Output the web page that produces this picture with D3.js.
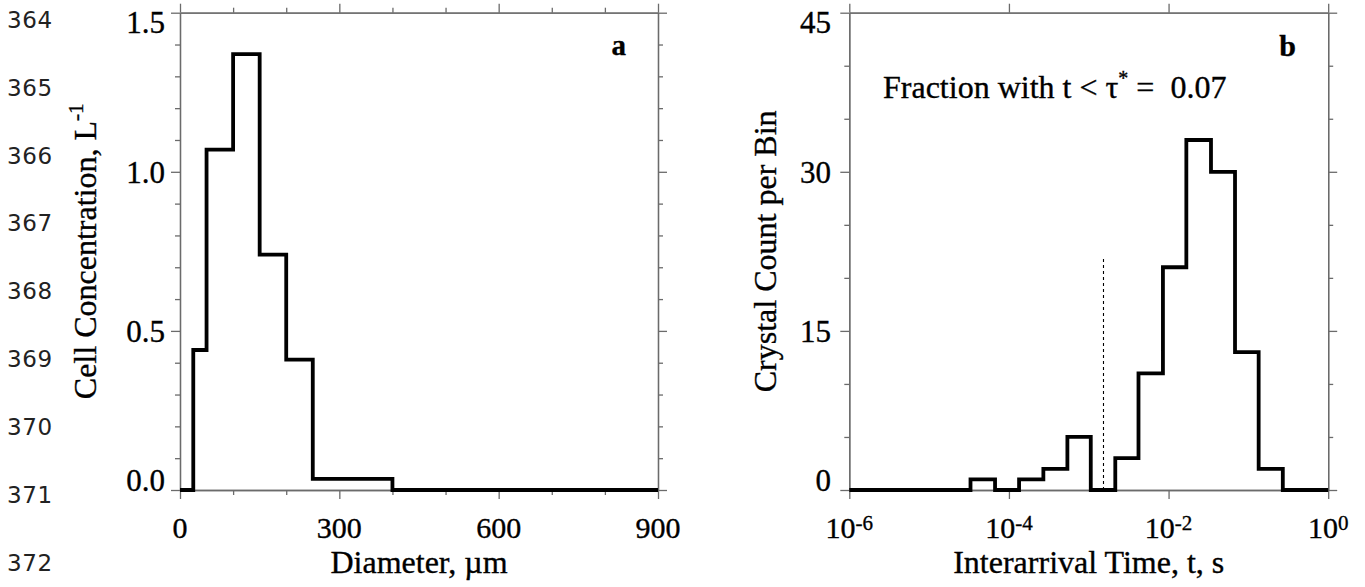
<!DOCTYPE html>
<html>
<head>
  <meta charset="utf-8">
  <script src="https://d3js.org/d3.v7.min.js"></script>
  <style>
    body { margin: 0; background: #fff; }
    svg { display: block; }
    .serif { font-family: "Liberation Serif", "Times New Roman", serif; fill: #000; stroke: #000; stroke-width: 0.35px; }
    .lineno { font-family: "DejaVu Sans", sans-serif; font-size: 23px; fill: #222; letter-spacing: 0.6px; }
  </style>
</head>
<body>
  <svg width="1365" height="587"></svg>

  <script>
    // manuscript line numbers down the left margin
    var lineNumbers = [364, 365, 366, 367, 368, 369, 370, 371, 372];

    // panel a: cell concentration by diameter bin (um, per L)
    var diamEdges = [0, 25, 50, 100, 150, 200, 250, 400, 900];
    var cellConc = [0, 0.44, 1.07, 1.37, 0.74, 0.41, 0.035, 0];
    var diamTicks = [0, 300, 600, 900];
    var diamMinor = [100, 200, 400, 500, 700, 800];
    var concTicks = [0, 0.5, 1.0, 1.5];
    var concMinor = [0.1, 0.2, 0.3, 0.4, 0.6, 0.7, 0.8, 0.9, 1.1, 1.2, 1.3, 1.4];

    // panel b: crystal count by interarrival time bin (s)
    var timeEdges = [1e-6, 3.3e-5, 6.7e-5, 1.34e-4, 2.7e-4, 5.4e-4, 1.06e-3, 2.15e-3,
                     4.2e-3, 8.5e-3, 1.67e-2, 3.4e-2, 6.8e-2, 0.1345, 0.27, 1];
    var crystalCount = [0, 1, 0, 1, 2, 5, 0, 3, 11, 21, 33, 30, 13, 2, 0];
    var timeTickExp = [-6, -4, -2, 0];
    var countTicks = [0, 15, 30, 45];
    var countMinor = [5, 10, 20, 25, 35, 40];
    var tauStar = 1.53e-3;
    var tauLineTop = 22;
    var fraction = 0.07;

    var svg = d3.select("svg");
    var plotTop = 12.7, plotBottom = 490;
    var axisColor = "#6b6b6b";

    // line numbers
    var lnY = d3.scaleLinear().domain([0, lineNumbers.length - 1]).range([28, 570.5]);
    svg.selectAll(".lineno")
      .data(lineNumbers)
      .enter()
      .append("text")
      .attr("class", "lineno")
      .attr("x", 7)
      .attr("y", (d, i) => lnY(i))
      .text(d => d);

    // step outline from bin edges and values
    function stepPath(edges, vals, x, y) {
      var pts = vals.map((v, i) => [edges[i], v]);
      pts.push([edges[edges.length - 1], vals[vals.length - 1]]);
      return d3.line()
        .x(d => x(d[0]))
        .y(d => y(d[1]))
        .curve(d3.curveStepAfter)(pts);
    }

    // frame with ticks on all four sides, ticks pointing out
    function frame(g, x, y, xMajor, xMinor, yMajor, yMinor) {
      var x0 = x.range()[0], x1 = x.range()[1];
      var sides = [
        [d3.axisBottom, x, xMajor, xMinor, "translate(0," + plotBottom + ")"],
        [d3.axisTop, x, xMajor, xMinor, "translate(0," + plotTop + ")"],
        [d3.axisLeft, y, yMajor, yMinor, "translate(" + x0 + ",0)"],
        [d3.axisRight, y, yMajor, yMinor, "translate(" + x1 + ",0)"]
      ];
      sides.forEach(s => {
        [[s[2], 9], [s[3], 5]].forEach(t => {
          var a = g.append("g")
            .attr("transform", s[4])
            .call(s[0](s[1]).tickValues(t[0]).tickSize(t[1]).tickSizeOuter(0).tickFormat(""));
          a.selectAll("line").attr("stroke", axisColor).attr("stroke-width", 1.3);
          a.select(".domain").attr("stroke", axisColor).attr("stroke-width", 1.3);
        });
      });
    }

    function yLabels(g, y, ticks, xPos, fmt) {
      var lo = d3.min(ticks), hi = d3.max(ticks);
      g.selectAll(".ytl")
        .data(ticks)
        .enter()
        .append("text")
        .attr("class", "serif")
        .attr("font-size", 31)
        .attr("text-anchor", "end")
        .attr("x", xPos)
        .attr("y", d => y(d) + (d === hi ? 20.5 : d === lo ? 1 : 11))
        .text(fmt);
    }

    // ---------- panel a ----------
    var xa = d3.scaleLinear().domain([0, 900]).range([180, 658]);
    var ya = d3.scaleLinear().domain([0, 1.5]).range([plotBottom, plotTop]);
    var ga = svg.append("g");
    frame(ga, xa, ya, diamTicks, diamMinor, concTicks, concMinor);

    ga.append("path")
      .attr("d", stepPath(diamEdges, cellConc, xa, ya))
      .attr("fill", "none")
      .attr("stroke", "#000")
      .attr("stroke-width", 3.8)
      .attr("stroke-linejoin", "miter");

    ga.selectAll(".xtl")
      .data(diamTicks)
      .enter()
      .append("text")
      .attr("class", "serif")
      .attr("font-size", 30)
      .attr("text-anchor", "middle")
      .attr("x", d => xa(d))
      .attr("y", 538)
      .text(d => d);

    yLabels(ga, ya, concTicks, 165, d => d3.format(".1f")(d));

    ga.append("text")
      .attr("class", "serif")
      .attr("font-size", 32)
      .attr("text-anchor", "middle")
      .attr("x", (xa.range()[0] + xa.range()[1]) / 2)
      .attr("y", 573)
      .text("Diameter, \u00b5m");

    var yla = ga.append("text")
      .attr("class", "serif")
      .attr("font-size", 32)
      .attr("text-anchor", "middle")
      .attr("transform", "translate(96," + (plotTop + plotBottom) / 2 + ") rotate(-90)");
    yla.append("tspan").text("Cell Concentration, L");
    yla.append("tspan").attr("font-size", 21).attr("dy", -13).text("-1");

    ga.append("text")
      .attr("class", "serif")
      .attr("font-size", 29)
      .attr("font-weight", "bold")
      .attr("text-anchor", "end")
      .attr("x", 626)
      .attr("y", 55)
      .text("a");

    // ---------- panel b ----------
    var xb = d3.scaleLog().domain([1e-6, 1]).range([849.3, 1328.2]);
    var yb = d3.scaleLinear().domain([0, 45]).range([plotBottom, plotTop]);
    var gb = svg.append("g");
    var timeTicks = timeTickExp.map(e => Math.pow(10, e));
    frame(gb, xb, yb, timeTicks, [], countTicks, countMinor);

    gb.append("line")
      .attr("x1", xb(tauStar))
      .attr("x2", xb(tauStar))
      .attr("y1", yb(0))
      .attr("y2", yb(tauLineTop))
      .attr("stroke", "#000")
      .attr("stroke-width", 1.1)
      .attr("stroke-dasharray", "3,3");

    gb.append("path")
      .attr("d", stepPath(timeEdges, crystalCount, xb, yb))
      .attr("fill", "none")
      .attr("stroke", "#000")
      .attr("stroke-width", 3.8)
      .attr("stroke-linejoin", "miter");

    var xtb = gb.selectAll(".xtl")
      .data(timeTickExp)
      .enter()
      .append("text")
      .attr("class", "serif")
      .attr("font-size", 30)
      .attr("text-anchor", "middle")
      .attr("x", d => xb(Math.pow(10, d)))
      .attr("y", 538);
    xtb.append("tspan").text("10");
    xtb.append("tspan").attr("font-size", 21).attr("dy", -8).text(d => d);

    yLabels(gb, yb, countTicks, 831, d => d);

    gb.append("text")
      .attr("class", "serif")
      .attr("font-size", 32)
      .attr("text-anchor", "middle")
      .attr("x", (xb.range()[0] + xb.range()[1]) / 2)
      .attr("y", 573)
      .text("Interarrival Time, t, s");

    gb.append("text")
      .attr("class", "serif")
      .attr("font-size", 32)
      .attr("text-anchor", "middle")
      .attr("transform", "translate(776," + (plotTop + plotBottom) / 2 + ") rotate(-90)")
      .text("Crystal Count per Bin");

    var frac = gb.append("text")
      .attr("class", "serif")
      .attr("font-size", 32)
      .attr("x", 883)
      .attr("y", 98);
    frac.append("tspan").text("Fraction with t < \u03c4");
    frac.append("tspan").attr("font-size", 20).attr("dy", -13).text("*");
    frac.append("tspan").attr("dy", 13).text(" = \u00a0" + d3.format(".2f")(fraction));

    gb.append("text")
      .attr("class", "serif")
      .attr("font-size", 30)
      .attr("font-weight", "bold")
      .attr("text-anchor", "end")
      .attr("x", 1296)
      .attr("y", 56)
      .text("b");
  </script>
</body>
</html>
